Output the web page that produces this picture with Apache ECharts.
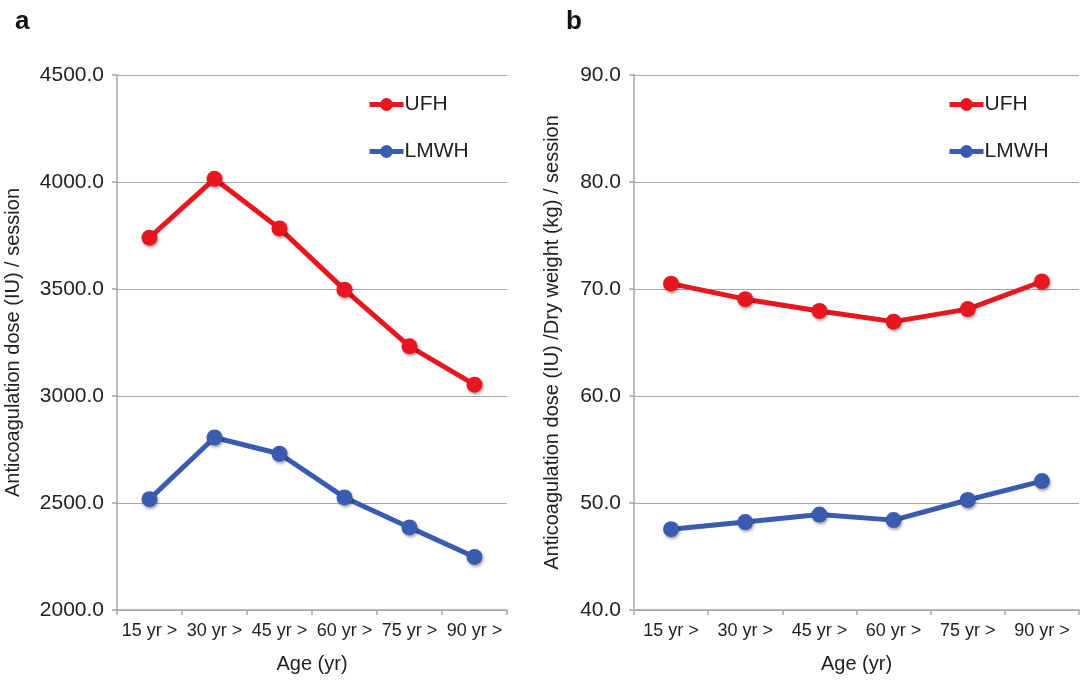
<!DOCTYPE html>
<html>
<head>
<meta charset="utf-8">
<script src="https://cdn.jsdelivr.net/npm/echarts@6/dist/echarts.min.js"></script>
<style>
html,body{margin:0;padding:0;background:#fff;}
#main{width:1090px;height:681px;}
</style>
</head>
<body>
<div id="main"></div>
<script>
const categories = ['15 yr >', '30 yr >', '45 yr >', '60 yr >', '75 yr >', '90 yr >'];
const ufhDose = [3740, 4015, 3783, 3497, 3232, 3053];
const lmwhDose = [2518, 2806, 2730, 2526, 2386, 2248];
const ufhPerKg = [70.5, 69.05, 67.95, 66.95, 68.12, 70.7];
const lmwhPerKg = [47.55, 48.22, 48.92, 48.4, 50.28, 52.05];
const seriesNames = ['UFH', 'LMWH'];
const RED = '#e8161f';
const BLUE = '#3a5cb0';
const GRID = '#a6a6a6';
const TXT = '#222222';
const FONT = 'Liberation Sans, Arial, sans-serif';

const chart = echarts.init(document.getElementById('main'), null, {renderer: 'canvas'});

function mkX(gi) {
  return {
    type: 'category', gridIndex: gi, data: categories, boundaryGap: true,
    name: 'Age (yr)', nameLocation: 'middle', nameGap: 44,
    nameTextStyle: {color: TXT, fontSize: 20, fontFamily: FONT},
    axisLine: {show: true, lineStyle: {color: GRID, width: 1.5}},
    axisTick: {show: true, length: 5, lineStyle: {color: GRID, width: 1.5}},
    axisLabel: {color: TXT, fontSize: 18, fontFamily: FONT, margin: 12, interval: 0},
    splitLine: {show: false}
  };
}
function mkY(gi, min, max, interval, name, gap) {
  return {
    type: 'value', gridIndex: gi, min: min, max: max, interval: interval,
    name: name, nameLocation: 'middle', nameGap: gap,
    nameTextStyle: {color: TXT, fontSize: 20, fontFamily: FONT},
    axisLine: {show: true, lineStyle: {color: GRID, width: 1.5}},
    axisTick: {show: true, length: 5, lineStyle: {color: GRID, width: 1.5}},
    axisLabel: {color: TXT, fontSize: 21, fontFamily: FONT, margin: 13,
      formatter: v => v.toFixed(1)},
    splitLine: {show: true, lineStyle: {color: GRID, width: 1.2}}
  };
}
function mkS(name, data, color, gi) {
  return {
    type: 'line', name: name, data: data, xAxisIndex: gi, yAxisIndex: gi,
    symbol: 'circle', symbolSize: 16, color: color,
    lineStyle: {color: color, width: 5},
    itemStyle: {color: color, shadowColor: 'rgba(0,0,0,0.35)', shadowBlur: 3, shadowOffsetX: 1, shadowOffsetY: 2},
    emphasis: {disabled: true}, animation: false
  };
}

const legendCommon = {
  orient: 'vertical', itemWidth: 34, itemHeight: 16, itemGap: 26,
  lineStyle: {width: 5},
  itemStyle: {shadowBlur: 0, shadowOffsetX: 0, shadowOffsetY: 0},
  textStyle: {color: TXT, fontSize: 21, fontFamily: FONT, padding: [0, 0, 0, -4]},
  selectedMode: false
};

chart.setOption({
  backgroundColor: '#ffffff',
  animation: false,
  title: [
    {text: 'a', left: 10, top: 4, textStyle: {fontSize: 26, fontWeight: 'bold', color: '#111', fontFamily: FONT}},
    {text: 'b', left: 561, top: 4, textStyle: {fontSize: 26, fontWeight: 'bold', color: '#111', fontFamily: FONT}}
  ],
  grid: [
    {left: 117, top: 75, width: 390, height: 535},
    {left: 634, top: 75, width: 445, height: 535}
  ],
  legend: [
    Object.assign({}, legendCommon, {left: 362, top: 89, data: [{name: 'UFH'}, {name: 'LMWH'}]}),
    Object.assign({}, legendCommon, {left: 942, top: 89, data: [{name: 'UFH'}, {name: 'LMWH'}]})
  ],
  xAxis: [mkX(0), mkX(1)],
  yAxis: [
    mkY(0, 2000, 4500, 500, 'Anticoagulation dose (IU) / session', 94),
    mkY(1, 40, 90, 10, 'Anticoagulation dose (IU) /Dry weight (kg) / session', 72)
  ],
  series: [
    mkS(seriesNames[0], ufhDose, RED, 0),
    mkS(seriesNames[1], lmwhDose, BLUE, 0),
    mkS(seriesNames[0], ufhPerKg, RED, 1),
    mkS(seriesNames[1], lmwhPerKg, BLUE, 1)
  ]
});
</script>
</body>
</html>
